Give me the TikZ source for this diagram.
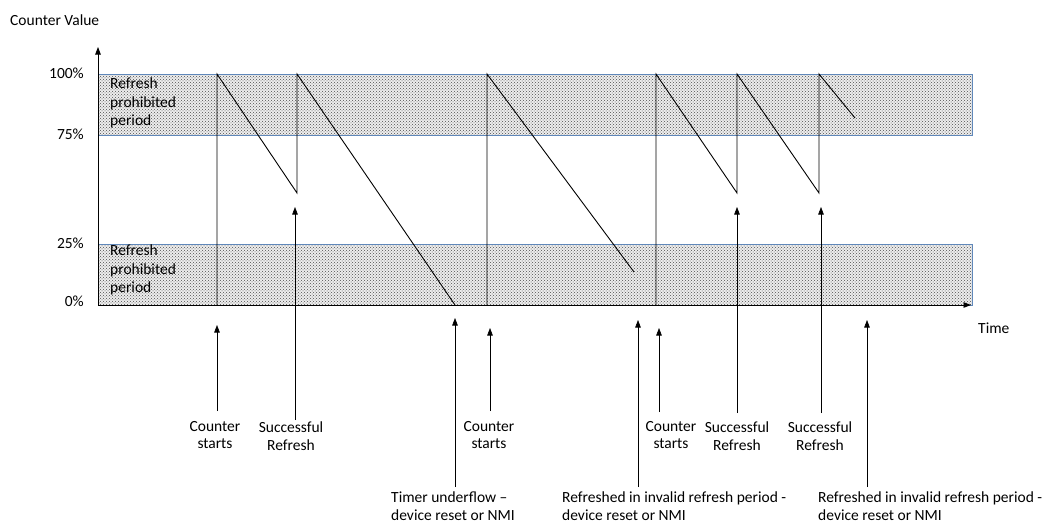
\documentclass[tikz,border=0pt]{standalone}
\usepackage{fontspec}
\setmainfont{Carlito}
\usetikzlibrary{arrows.meta,patterns,positioning}
\definecolor{bandblue}{RGB}{96,136,186}

\begin{document}
\begin{tikzpicture}[
    x=1pt, y=-1pt,
    every node/.style={font=\fontsize{15.5}{17.5}\selectfont, inner sep=0pt},
    band/.style={
        fill=gray!14
    },
    banddots/.style={
        pattern=crosshatch dots,
        pattern color=black!70
    },
    bandedge/.style={draw=bandblue, line width=0.9pt},
    bandtext/.style={anchor=north west, align=left, font=\fontsize{15.5}{18.5}\selectfont},
    ticklabel/.style={anchor=east},
    eventlabel/.style={anchor=north, align=center},
    invalidlabel/.style={anchor=north west, align=left},
    axisarrow/.style={thick, -{Triangle[width=5.5pt,length=7.5pt]}},
    eventarrow/.style={semithick, -{Triangle[width=5.5pt,length=7.5pt]}},
    saw/.style={line width=0.9pt, line join=miter}
]
\useasboundingbox (0,0) rectangle (1045,525);
% bands
\fill[white] (0,0) rectangle (1045,525);
\fill[band] (98,74) rectangle (972,135);
\fill[band] (98,244) rectangle (972,305);
\fill[banddots] (98,74) rectangle (972,135);
\fill[banddots] (98,244) rectangle (972,305);
\draw[bandedge] (98,74) rectangle (972,135);
\draw[bandedge] (98,244) rectangle (972,305);
\node (band1) [bandtext] at (110,78) {Refresh\\prohibited\\period};
\node (band2) [bandtext] at (110,245) {Refresh\\prohibited\\period};
% axes
\coordinate (origin) at (98,305);
\coordinate (ytip) at (98,47);
\coordinate (xtip) at (971,305);
\draw[axisarrow] (origin) -- (ytip);
\draw[axisarrow] (origin) -- (xtip);
\node (ytitle) [anchor=west] at (10,20) {Counter Value};
\node (xtitle) [anchor=west] at (978,328) {Time};
\node (p100) [ticklabel] at (84,73) {100\%};
\node (p75) [ticklabel] at (84,134) {75\%};
\node (p25) [ticklabel] at (84,243) {25\%};
\node (p0) [ticklabel] at (84,301) {0\%};
% counter value
\coordinate (a0) at (217,305);
\coordinate (a1) at (217,74);
\coordinate (a2) at (297,193);
\coordinate (a3) at (297,74);
\coordinate (a4) at (455,305);
\coordinate (b0) at (487,305);
\coordinate (b1) at (487,74);
\coordinate (b2) at (634,272);
\coordinate (c0) at (656,305);
\coordinate (c1) at (656,74);
\coordinate (c2) at (737,193);
\coordinate (c3) at (737,74);
\coordinate (c4) at (819,193);
\coordinate (c5) at (819,74);
\coordinate (c6) at (855,118);
\draw[saw] (a0) -- (a1) -- (a2) -- (a3) -- (a4);
\draw[saw] (b0) -- (b1) -- (b2);
\draw[saw] (c0) -- (c1) -- (c2) -- (c3) -- (c4) -- (c5) -- (c6);
% events
\coordinate (e1) at (217,325);
\coordinate (e2) at (295,207);
\coordinate (e3) at (455,318);
\coordinate (e4) at (490,328);
\coordinate (e5) at (638,320);
\coordinate (e6) at (659,328);
\coordinate (e7) at (737,207);
\coordinate (e8) at (821,207);
\coordinate (e9) at (867,320);
\node (start1) [eventlabel] at (215,421) {Counter\\starts};
\node (ok1) [eventlabel] at (291,422) {Successful\\Refresh};
\node (underflow) [invalidlabel] at (391,492) {Timer underflow --\\device reset or NMI};
\node (start2) [eventlabel] at (489,421) {Counter\\starts};
\node (invalid1) [invalidlabel] at (562,492) {Refreshed in invalid refresh period -\\device reset or NMI};
\node (start3) [eventlabel] at (671,421) {Counter\\starts};
\node (ok2) [eventlabel] at (737,422) {Successful\\Refresh};
\node (ok3) [eventlabel] at (820,422) {Successful\\Refresh};
\node (invalid2) [invalidlabel] at (818,492) {Refreshed in invalid refresh period -\\device reset or NMI};
\draw[eventarrow] (e1 |- start1.north) ++(0,-10) -- (e1);
\draw[eventarrow] (e2 |- ok1.north) ++(0,-2) -- (e2);
\draw[eventarrow] (e3 |- underflow.north) ++(0,-5) -- (e3);
\draw[eventarrow] (e4 |- start2.north) ++(0,-10) -- (e4);
\draw[eventarrow] (e5 |- invalid1.north) ++(0,-5) -- (e5);
\draw[eventarrow] (e6 |- start3.north) ++(0,-9) -- (e6);
\draw[eventarrow] (e7 |- ok2.north) ++(0,-9) -- (e7);
\draw[eventarrow] (e8 |- ok3.north) ++(0,-9) -- (e8);
\draw[eventarrow] (e9 |- invalid2.north) ++(0,-5) -- (e9);
\end{tikzpicture}
\end{document}
